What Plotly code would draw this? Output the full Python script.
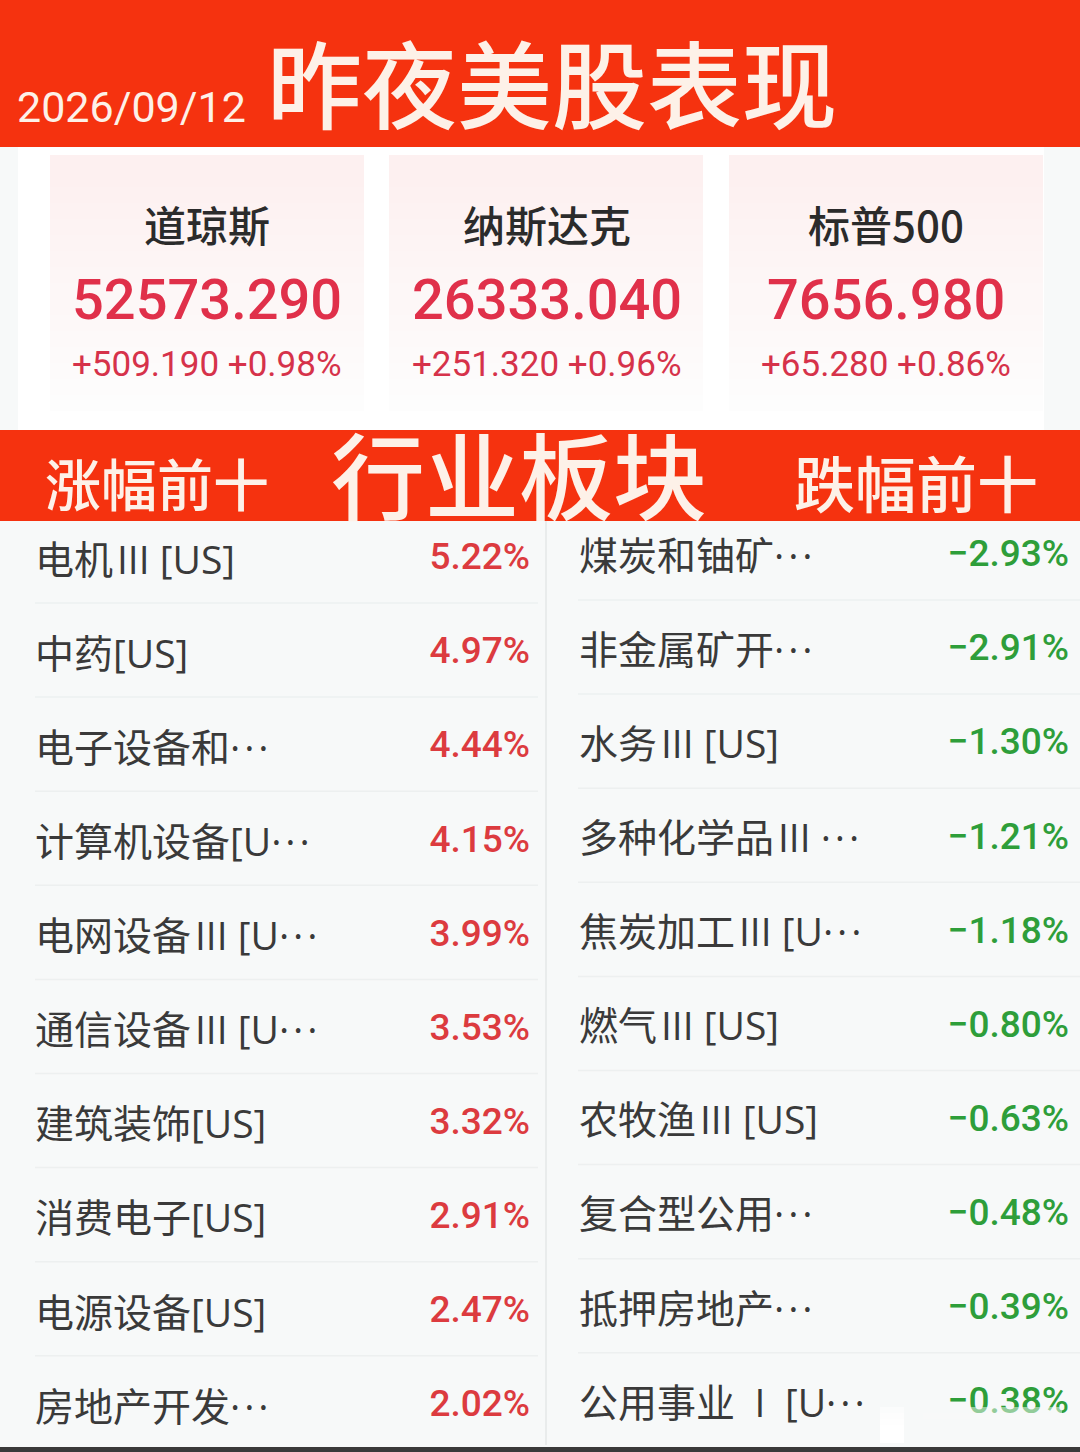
import plotly.graph_objects as go

# Index cards
index_names = ["道琼斯", "纳斯达克", "标普500"]
index_close = [52573.290, 26333.040, 7656.980]
index_change = [509.190, 251.320, 65.280]
index_pct = [0.98, 0.96, 0.86]

# Sector tables
gain_names = ["电机\u200aIII [US]", "中药[US]", "电子设备和·\u200a·\u200a·", "计算机设备[U·\u200a·\u200a·", "电网设备\u200aIII [U·\u200a·\u200a·",
              "通信设备\u200aIII [U·\u200a·\u200a·", "建筑装饰[US]", "消费电子[US]", "电源设备[US]", "房地产开发·\u200a·\u200a·"]
gain_pct = [5.22, 4.97, 4.44, 4.15, 3.99, 3.53, 3.32, 2.91, 2.47, 2.02]
loss_names = ["煤炭和铀矿·\u200a·\u200a·", "非金属矿开·\u200a·\u200a·", "水务\u200aIII [US]", "多种化学品\u200aIII ·\u200a·\u200a·", "焦炭加工\u200aIII [U·\u200a·\u200a·",
              "燃气\u200aIII [US]", "农牧渔\u200aIII [US]", "复合型公用·\u200a·\u200a·", "抵押房地产·\u200a·\u200a·", "公用事业\u2002I\u2002[U·\u200a·\u200a·"]
loss_pct = [-2.93, -2.91, -1.30, -1.21, -1.18, -0.80, -0.63, -0.48, -0.39, -0.38]

CJK = "Noto Sans CJK SC"
ROW_FONT = "Open Sans, Noto Sans CJK SC"
NUM = "Roboto"
RED = "#F5320F"
CREAM = "#FDF1E8"
PITCH = 94.1

fig = go.Figure()
shapes = []
annotations = []


def rect(x0, y0, x1, y1, color, layer="below"):
    shapes.append(dict(type="rect", x0=x0, y0=y0, x1=x1, y1=y1, fillcolor=color,
                       line_width=0, layer=layer))


def label(x, y, text, size, color, font=CJK, anchor="center", weight=400):
    annotations.append(dict(x=x, y=y, text=text, showarrow=False, xanchor=anchor, yanchor="middle",
                            font=dict(family=font, size=size, color=color, weight=weight)))


# Backgrounds
rect(0, 0, 1080, 1452, "#F7F9F9")
rect(0, 0, 1080, 147, RED)
rect(18, 147, 1044, 430, "#FFFFFF")
rect(0, 430, 1080, 521, RED)
rect(545, 521, 547, 1445, "#E9ECEC")
rect(0, 1447, 1080, 1452, "#3A3A3A")

# Header text
label(15, 107, "2026/09/12", 43, CREAM, NUM, "left")
label(552, 80, "昨夜美股表现", 95, CREAM, weight=500)
label(157, 481, "涨幅前十", 56, CREAM, weight=500)
label(519, 472, "行业板块", 94, CREAM, weight=500)
label(916, 481, "跌幅前十", 61, CREAM, weight=500)

# Index cards, pink fading down to white
card_left = [50, 389, 729]
card_center = [206.5, 546.5, 886]
for left, center, name, close, change, pct in zip(card_left, card_center, index_names,
                                                  index_close, index_change, index_pct):
    for band in range(16):
        top = 155 + band * 16
        shade = 240 + band * 14 // 16
        rect(left, top, left + 314, top + 16, f"rgb(253,{shade},{shade})")
    label(center, 223, name, 42, "#2B2B2B", weight=500)
    label(center, 300, f"{close:.3f}", 56, "#E0304A", NUM, weight=500)
    label(center, 364, f"+{change:.3f} +{pct:.2f}%", 35, "#D6324A", NUM)

# Row separators
for i in range(9):
    shapes.append(dict(type="line", x0=35, x1=538, y0=603 + i * PITCH, y1=603 + i * PITCH,
                       line=dict(color="#EDF0F0", width=1.5), layer="below"))
    shapes.append(dict(type="line", x0=578, x1=1080, y0=600 + i * PITCH, y1=600 + i * PITCH,
                       line=dict(color="#EDF0F0", width=1.5), layer="below"))


def table(names, values, name_x, pct_x, name_top, pct_top, color):
    rows = list(range(len(names)))
    fig.add_trace(go.Scatter(
        x=[name_x] * len(rows), y=[name_top + r * PITCH for r in rows], mode="text", text=names,
        textposition="middle right", textfont=dict(family=ROW_FONT, size=39, color="#3A3A3A"),
        cliponaxis=False, hoverinfo="skip"))
    fig.add_trace(go.Scatter(
        x=[pct_x] * len(rows), y=[pct_top + r * PITCH for r in rows], mode="text",
        text=[f"{v:.2f}%".replace("-", "\u2212") for v in values],
        textposition="middle left", textfont=dict(family=NUM, size=37, color=color, weight=500),
        cliponaxis=False, hoverinfo="skip"))


table(gain_names, gain_pct, 35, 530, 564, 560, "#DC3B3F")
table(loss_names, loss_pct, 579, 1069, 560, 557, "#2E9E3A")

# Blurred watermark over the last row
for y0 in range(1407, 1441, 6):
    alpha = min(0.5 + (y0 - 1407) * 0.03, 1)
    rect(880, y0, 904, y0 + 6, f"rgba(255,255,255,{alpha:.2f})", "above")
    rect(923, y0, 1062, y0 + 6, f"rgba(247,249,249,{alpha:.2f})", "above")

fig.update_layout(
    width=1080, height=1452, margin=dict(l=0, r=0, t=0, b=0),
    paper_bgcolor="#F7F9F9", plot_bgcolor="#F7F9F9", showlegend=False,
    shapes=shapes, annotations=annotations,
    xaxis=dict(range=[0, 1080], visible=False, fixedrange=True),
    yaxis=dict(range=[1452, 0], visible=False, fixedrange=True),
)

fig.write_html("out.html", config={"displayModeBar": False},
               post_script="document.body.style.margin='0';")
